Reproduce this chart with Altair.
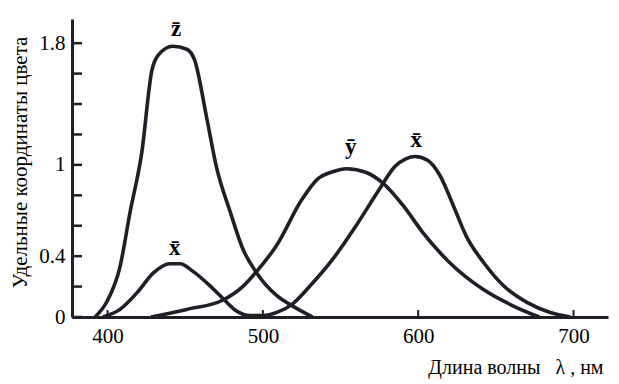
import altair as alt
import pandas as pd

# x-bar (two lobes)
lam_x = [397, 408, 419, 429.5, 440, 446.7, 455, 466, 474.5, 483, 492, 500, 509, 519, 530, 545,
         560, 575, 585, 592, 598, 606, 614, 622.7, 631, 642, 655, 670, 685, 698]
val_x = [0, 0.05, 0.16, 0.29, 0.35, 0.35, 0.30, 0.205, 0.12, 0.04, 0.01, 0.01, 0.03, 0.085, 0.2, 0.38,
         0.6, 0.84, 0.99, 1.04, 1.055, 1.03, 0.93, 0.73, 0.53, 0.36, 0.205, 0.096, 0.03, 0]
# y-bar
lam_y = [428, 451, 474, 487, 496, 508.6, 525, 535, 545, 554, 566.6, 577.3, 590.5, 603, 620, 642, 663, 678]
val_y = [0, 0.05, 0.11, 0.20, 0.30, 0.467, 0.77, 0.905, 0.955, 0.975, 0.95, 0.88, 0.73, 0.555, 0.36, 0.18, 0.064, 0]
# z-bar
lam_z = [392, 399.5, 408, 414.5, 422, 428.5, 432.5, 442, 451, 456, 464, 470, 479, 487, 496, 509, 519.5, 532]
val_z = [0, 0.10, 0.33, 0.69, 1.08, 1.62, 1.72, 1.78, 1.76, 1.69, 1.30, 0.99, 0.69, 0.45, 0.29, 0.14, 0.07, 0]

label_text = ["z\u0304", "x\u0304", "y\u0304", "x\u0304"]
label_lam = [444.1, 443.3, 556.5, 598.7]
label_val = [1.847, 0.408, 1.072, 1.12]

y_ticks = [0, 0.2, 0.4, 0.6, 0.8, 1.0, 1.2, 1.4, 1.6, 1.8]
y_labels = [0, 0.4, 1, 1.8]
x_ticks = [400, 500, 600, 700]

rows = []
for name, ls, vs in [("x", lam_x, val_x), ("y", lam_y, val_y), ("z", lam_z, val_z)]:
    for l, v in zip(ls, vs):
        rows.append({"series": name, "lam": l, "val": v})
curves = pd.DataFrame(rows)
labels = pd.DataFrame({"text": label_text, "lam": label_lam, "val": label_val})
yt = pd.DataFrame({"v": y_ticks})
xt = pd.DataFrame({"l": x_ticks})

W, H = 536, 298
FONT = "Liberation Serif"
INK = "#1f1f28"

xs = alt.Scale(domain=[377.1, 722.2], nice=False, zero=False)
ys = alt.Scale(domain=[0, 1.959], nice=False, zero=True)

lines = alt.Chart(curves).mark_line(
    interpolate="monotone", stroke=INK, strokeWidth=3.6
).encode(
    x=alt.X("lam:Q", scale=xs, axis=alt.Axis(
        values=x_ticks, format="d", ticks=False, grid=False,
        domainColor=INK, domainWidth=3, labelFont=FONT, labelFontSize=21,
        labelColor="#000", labelPadding=8,
        title="Длина волны\u2002 λ , нм", titleFont=FONT, titleFontSize=20,
        titleFontWeight="normal", titleColor="#000",
        titleAnchor="end", titleAlign="right", titleBaseline="alphabetic",
        titleX=531, titleY=56)),
    y=alt.Y("val:Q", scale=ys, axis=alt.Axis(
        values=y_labels, format="~g", ticks=False, grid=False,
        domainColor=INK, domainWidth=3, labelFont=FONT, labelFontSize=21,
        labelColor="#000", labelPadding=7,
        title="Удельные координаты цвета", titleFont=FONT, titleFontSize=21,
        titleFontWeight="normal", titleColor="#000",
        titleAngle=270, titleAlign="center", titleBaseline="alphabetic",
        titleX=-46, titleY=143)),
    detail="series:N",
)

ytick = alt.Chart(yt).mark_rule(stroke=INK, strokeWidth=2.5).encode(
    y=alt.Y("v:Q", scale=ys), x=alt.value(0), x2=alt.value(10)
)
xtick = alt.Chart(xt).mark_rule(stroke=INK, strokeWidth=2).encode(
    x=alt.X("l:Q", scale=xs), y=alt.value(H), y2=alt.value(H - 7)
)

text = alt.Chart(labels).mark_text(
    font=FONT, fontSize=23, fontWeight="bold", color="#000",
    align="center", baseline="alphabetic"
).encode(
    x=alt.X("lam:Q", scale=xs), y=alt.Y("val:Q", scale=ys), text="text:N"
)

chart = alt.layer(lines, ytick, xtick, text).properties(
    width=W, height=H,
    padding={"left": 72, "top": 19, "right": 11, "bottom": 67},
    autosize=alt.AutoSizeParams(type="none"),
    background="white",
).configure_view(stroke=None)

chart.save("out.html", embed_options={"renderer": "svg", "actions": False})
